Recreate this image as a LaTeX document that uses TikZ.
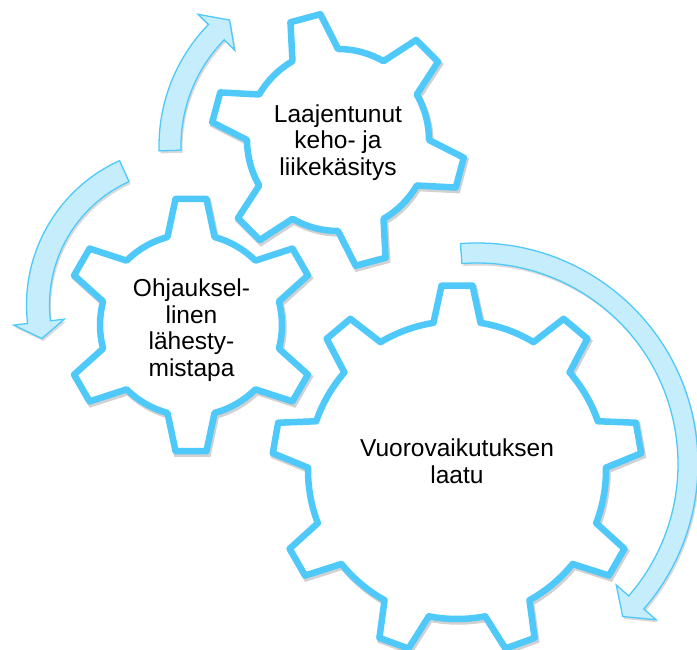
\documentclass[tikz,border=0pt]{standalone}
\usepackage{fontspec}
\setmainfont{Liberation Sans}
\usetikzlibrary{shadows}
\definecolor{gearblue}{RGB}{78,201,250}
\definecolor{arrowfill}{RGB}{197,237,252}
\tikzset{
  gearline/.style={draw=gearblue, line width=6.5pt, fill=white, line join=round,
    drop shadow={shadow xshift=1.5pt, shadow yshift=-2.5pt, opacity=0.18, fill=black, draw=black, line width=6.5pt}},
  arrowshape/.style={draw=gearblue, line width=1.3pt, fill=arrowfill, line join=miter,
    drop shadow={shadow xshift=1.5pt, shadow yshift=-2.5pt, opacity=0.15, fill=black}},
  geartext/.style={align=center, inner sep=0pt, text=black, font=\fontsize{24.5}{26.7}\selectfont}
}
% cx cy n rot rroot rtip halfbase halftip
\newcommand\gearshape[8]{%
  \begin{scope}[shift={(#1,#2)}]
    \draw[gearline] (#4-#7:#5)
      \foreach \k [evaluate=\k as \ga using #4+(\k-1)*360/#3,
                   evaluate=\k as \gb using #4+\k*360/#3] in {1,...,#3}{
        -- (\ga-#8:#6) -- (\ga+#8:#6) -- (\ga+#7:#5)
        arc[start angle=\ga+#7, end angle=\gb-#7, radius=#5]
      } -- cycle;
  \end{scope}}
% cx cy R startangle headbaseangle tipangle bodywidth headwidth
\newcommand\ringarrow[8]{%
  \begin{scope}[shift={(#1,#2)}]
    \pgfmathsetmacro\rAo{#3+#7/2}\pgfmathsetmacro\rAi{#3-#7/2}%
    \pgfmathsetmacro\rHo{#3+#8/2}\pgfmathsetmacro\rHi{#3-#8/2}%
    \draw[arrowshape] (#4:\rAo) arc[start angle=#4, end angle=#5, radius=\rAo]
      -- (#5:\rHo) -- (#6:#3) -- (#5:\rHi) -- (#5:\rAi)
      arc[start angle=#5, end angle=#4, radius=\rAi] -- cycle;
  \end{scope}}
\begin{document}
\begin{tikzpicture}[x=1pt,y=1pt]
\useasboundingbox (0,0) rectangle (697,650);
% arrows
\ringarrow{333}{504}{163}{181.6}{135.7}{129.4}{22}{51}
\ringarrow{185}{345}{147}{114.4}{186.7}{193.2}{23}{51}
\ringarrow{477}{186}{211}{94.3}{-41}{-46.3}{20}{53}
% gears
\gearshape{338}{510}{6}{45}{91}{127}{15}{7}
\gearshape{191}{325}{6}{90}{91}{127}{15}{7}
\gearshape{457}{180}{9}{90}{149}{185}{9.1}{4.8}
% texts
\node[geartext] (tmid) at (338,507.5) {Laajentunut\\keho- ja\\liikekäsitys};
\node[geartext] (tsmall) at (191.5,319.7) {Ohjauksel-\\linen\\lähesty-\\mistapa};
\node[geartext] (tlarge) at (457,188.7) {Vuorovaikutuksen\\laatu};
\end{tikzpicture}
\end{document}
